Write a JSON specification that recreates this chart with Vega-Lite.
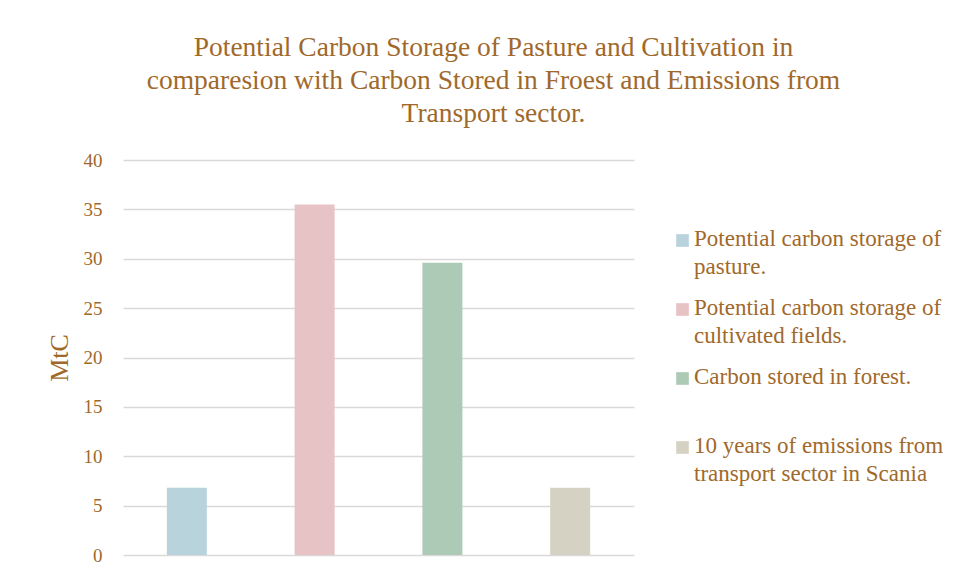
{
  "$schema": "https://vega.github.io/schema/vega-lite/v6.json",
  "autosize": "none",
  "width": 511,
  "height": 395,
  "padding": {"left": 123, "top": 160, "right": 334, "bottom": 25},
  "background": "white",
  "title": {
    "text": ["Potential Carbon Storage of Pasture and Cultivation in", "comparesion with Carbon Stored in Froest and Emissions from", "Transport sector."],
    "anchor": "middle",
    "dx": 115,
    "offset": 24,
    "font": "Liberation Serif",
    "fontSize": 27.5,
    "fontWeight": "normal",
    "color": "#A0692B",
    "lineHeight": 33
  },
  "data": {
    "values": [
      {"category": "Potential carbon storage of|pasture.", "value": 6.8},
      {"category": "Potential carbon storage of|cultivated fields.", "value": 35.5},
      {"category": "Carbon stored in forest.", "value": 29.6},
      {"category": "10 years of emissions from|transport sector in Scania", "value": 6.8}
    ]
  },
  "mark": {"type": "bar"},
  "encoding": {
    "x": {
      "field": "category",
      "type": "nominal",
      "sort": null,
      "axis": null,
      "scale": {"paddingInner": 0.687, "paddingOuter": 0.343}
    },
    "y": {
      "field": "value",
      "type": "quantitative",
      "scale": {"domain": [0, 40]},
      "axis": {
        "title": "MtC",
        "values": [0, 5, 10, 15, 20, 25, 30, 35, 40],
        "domain": false,
        "ticks": false,
        "labelPadding": 21,
        "labelOffset": -5,
        "titlePadding": 11,
        "titleFontSize": 26,
        "titleFontWeight": "normal",
        "labelFontSize": 19,
        "gridColor": "#D9D9D9",
        "gridWidth": 1.5
      }
    },
    "color": {
      "field": "category",
      "type": "nominal",
      "sort": null,
      "scale": {"range": ["#B9D3DC", "#E7C3C6", "#ADCAB7", "#D5D2C3"]},
      "legend": {
        "title": null,
        "orient": "none",
        "legendX": 548,
        "legendY": 69,
        "padding": 0,
        "symbolType": "square",
        "symbolSize": 160,
        "symbolStrokeWidth": 0,
        "labelFontSize": 23,
        "labelOffset": 0,
        "labelLimit": 400,
        "labelBaseline": "alphabetic",
        "labelExpr": "split(datum.label, '|')",
        "gridAlign": "all",
        "rowPadding": 17
      }
    }
  },
  "config": {
    "font": "Liberation Serif",
    "view": {"stroke": null},
    "axis": {"labelColor": "#A0692B", "titleColor": "#A0692B", "labelFont": "Liberation Serif", "titleFont": "Liberation Serif"},
    "legend": {"labelColor": "#A0692B", "labelFont": "Liberation Serif"},
    "style": {"guide-label": {"lineHeight": 28, "dy": 5}}
  }
}
